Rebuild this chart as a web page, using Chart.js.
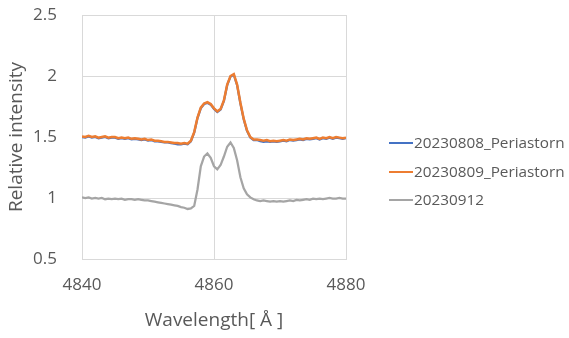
<!DOCTYPE html>
<html>
<head>
<meta charset="utf-8">
<script src="https://cdn.jsdelivr.net/npm/chart.js@4/dist/chart.umd.min.js"></script>
<style>
    html, body { margin: 0; padding: 0; background: #fff; }
    #wrap { width: 569px; height: 338px; }
</style>
</head>
<body>
<div id="wrap"><canvas id="spectrum"></canvas></div>
<script>
// Wavelengths (Å) and relative intensity of each observation
const wavelengths = [
    4840, 4840.5, 4841, 4841.5, 4842, 4842.5, 4843, 4843.5, 4844, 4844.5,
    4845, 4845.5, 4846, 4846.5, 4847, 4847.5, 4848, 4848.5, 4849, 4849.5,
    4850, 4850.5, 4851, 4851.5, 4852, 4852.5, 4853, 4853.5, 4854, 4854.5,
    4855, 4855.5, 4856, 4856.5, 4857, 4857.5, 4858, 4858.5, 4859, 4859.5,
    4860, 4860.5, 4861, 4861.5, 4862, 4862.5, 4863, 4863.5, 4864, 4864.5,
    4865, 4865.5, 4866, 4866.5, 4867, 4867.5, 4868, 4868.5, 4869, 4869.5,
    4870, 4870.5, 4871, 4871.5, 4872, 4872.5, 4873, 4873.5, 4874, 4874.5,
    4875, 4875.5, 4876, 4876.5, 4877, 4877.5, 4878, 4878.5, 4879, 4879.5,
    4880
];

const seriesLabels = ['20230808_Periastorn', '20230809_Periastorn', '20230912'];
const seriesColors = ['#4472C4', '#ED7D31', '#A5A5A5'];

const obs0808 = [
    1.500, 1.495, 1.505, 1.495, 1.500, 1.490, 1.495, 1.500, 1.490, 1.495,
    1.495, 1.485, 1.490, 1.485, 1.490, 1.480, 1.485, 1.480, 1.475, 1.480,
    1.470, 1.475, 1.465, 1.465, 1.460, 1.455, 1.455, 1.450, 1.445, 1.440,
    1.440, 1.445, 1.440, 1.465, 1.535, 1.655, 1.735, 1.770, 1.780, 1.765,
    1.730, 1.705, 1.725, 1.795, 1.925, 1.995, 2.010, 1.925, 1.775, 1.645,
    1.550, 1.495, 1.475, 1.475, 1.465, 1.460, 1.465, 1.460, 1.465, 1.460,
    1.465, 1.470, 1.465, 1.475, 1.470, 1.475, 1.480, 1.475, 1.485, 1.480,
    1.485, 1.490, 1.480, 1.490, 1.485, 1.495, 1.485, 1.495, 1.490, 1.485,
    1.490
];

const obs0809 = [
    1.505, 1.500, 1.510, 1.500, 1.505, 1.495, 1.500, 1.505, 1.495, 1.500,
    1.500, 1.490, 1.495, 1.490, 1.495, 1.485, 1.490, 1.485, 1.480, 1.485,
    1.475, 1.480, 1.470, 1.470, 1.465, 1.460, 1.460, 1.455, 1.450, 1.450,
    1.445, 1.450, 1.445, 1.470, 1.540, 1.660, 1.740, 1.775, 1.785, 1.770,
    1.735, 1.710, 1.730, 1.800, 1.930, 2.000, 2.015, 1.930, 1.780, 1.650,
    1.555, 1.500, 1.480, 1.480, 1.475, 1.470, 1.475, 1.465, 1.470, 1.465,
    1.470, 1.475, 1.470, 1.480, 1.475, 1.480, 1.485, 1.480, 1.490, 1.485,
    1.490, 1.495, 1.485, 1.495, 1.490, 1.500, 1.490, 1.500, 1.495, 1.490,
    1.495
];

const obs0912 = [
    1.005, 1.000, 1.005, 0.995, 1.000, 0.995, 1.000, 0.990, 0.995, 0.990,
    0.995, 0.990, 0.995, 0.985, 0.990, 0.990, 0.985, 0.990, 0.985, 0.980,
    0.980, 0.975, 0.970, 0.965, 0.960, 0.955, 0.950, 0.945, 0.940, 0.935,
    0.925, 0.920, 0.910, 0.915, 0.935, 1.070, 1.260, 1.340, 1.365, 1.330,
    1.260, 1.235, 1.270, 1.340, 1.420, 1.455, 1.410, 1.310, 1.170, 1.080,
    1.030, 1.005, 0.990, 0.980, 0.975, 0.980, 0.975, 0.970, 0.975, 0.970,
    0.975, 0.970, 0.975, 0.980, 0.975, 0.985, 0.980, 0.985, 0.990, 0.985,
    0.995, 0.990, 0.995, 0.990, 0.995, 1.000, 0.995, 0.995, 1.000, 0.995,
    0.995
];

const xTicks = [4840, 4860, 4880];
const yTicks = [0.5, 1, 1.5, 2, 2.5];

const FONT = '"Open Sans", "Liberation Sans", sans-serif';
const TEXT_COLOR = '#595959';
const GRID_COLOR = '#d9d9d9';

function toPoints(values) {
    return wavelengths.map((w, i) => ({ x: w, y: values[i] }));
}

// Legend drawn to the right of the plot, Excel style (short line + label)
const sideLegend = {
    id: 'sideLegend',
    afterDraw(chart) {
        const ctx = chart.ctx;
        const rows = [143, 172, 200];
        ctx.save();
        ctx.font = '15.3px ' + FONT;
        ctx.textBaseline = 'middle';
        ctx.textAlign = 'left';
        chart.data.datasets.forEach((ds, i) => {
            ctx.strokeStyle = ds.borderColor;
            ctx.lineWidth = 2;
            ctx.beginPath();
            ctx.moveTo(389, rows[i]);
            ctx.lineTo(413, rows[i]);
            ctx.stroke();
            ctx.fillStyle = TEXT_COLOR;
            ctx.fillText(ds.label, 414, rows[i] + 0.5);
        });
        ctx.restore();
    }
};

// no extra room for edge tick labels: plot box is set by layout padding
function noEdgePadding(scale) {
    scale.paddingTop = 0;
    scale.paddingBottom = 0;
    scale.paddingLeft = 0;
    scale.paddingRight = 0;
}

const canvas = document.getElementById('spectrum');
new Chart(canvas.getContext('2d'), {
    type: 'line',
    data: {
        datasets: [
            { label: seriesLabels[0], data: toPoints(obs0808), borderColor: seriesColors[0], borderWidth: 2.25, order: 2 },
            { label: seriesLabels[1], data: toPoints(obs0809), borderColor: seriesColors[1], borderWidth: 2.5, order: 1 },
            { label: seriesLabels[2], data: toPoints(obs0912), borderColor: seriesColors[2], borderWidth: 2.25, order: 3 }
        ]
    },
    options: {
        responsive: true,
        maintainAspectRatio: false,
        animation: false,
        elements: {
            point: { radius: 0 },
            line: { tension: 0, fill: false }
        },
        layout: {
            padding: { top: 15, right: 223, left: 0, bottom: 0 }
        },
        scales: {
            x: {
                type: 'linear',
                min: 4840,
                max: 4880,
                afterFit(scale) { scale.height = 79; noEdgePadding(scale); },
                afterBuildTicks(scale) { scale.ticks = xTicks.map(v => ({ value: v })); },
                grid: { color: GRID_COLOR, drawTicks: false },
                border: { color: GRID_COLOR },
                ticks: {
                    padding: 16,
                    color: TEXT_COLOR,
                    font: { family: FONT, size: 17 },
                    callback: v => String(v)
                },
                title: {
                    display: true,
                    text: 'Wavelength[ Å ]',
                    color: TEXT_COLOR,
                    font: { family: FONT, size: 19 },
                    padding: { top: 0, bottom: 6 }
                }
            },
            y: {
                min: 0.5,
                max: 2.5,
                afterFit(scale) { scale.width = 82; noEdgePadding(scale); },
                afterBuildTicks(scale) { scale.ticks = yTicks.map(v => ({ value: v })); },
                grid: { color: GRID_COLOR, drawTicks: false },
                border: { color: GRID_COLOR },
                ticks: {
                    padding: 25,
                    color: TEXT_COLOR,
                    font: { family: FONT, size: 17 },
                    callback: v => String(v)
                },
                title: {
                    display: true,
                    text: 'Relative intensity',
                    color: TEXT_COLOR,
                    font: { family: FONT, size: 19 },
                    padding: { top: 5, bottom: 0 }
                }
            }
        },
        plugins: {
            legend: { display: false },
            tooltip: { enabled: false }
        }
    },
    plugins: [sideLegend]
});
</script>
</body>
</html>
